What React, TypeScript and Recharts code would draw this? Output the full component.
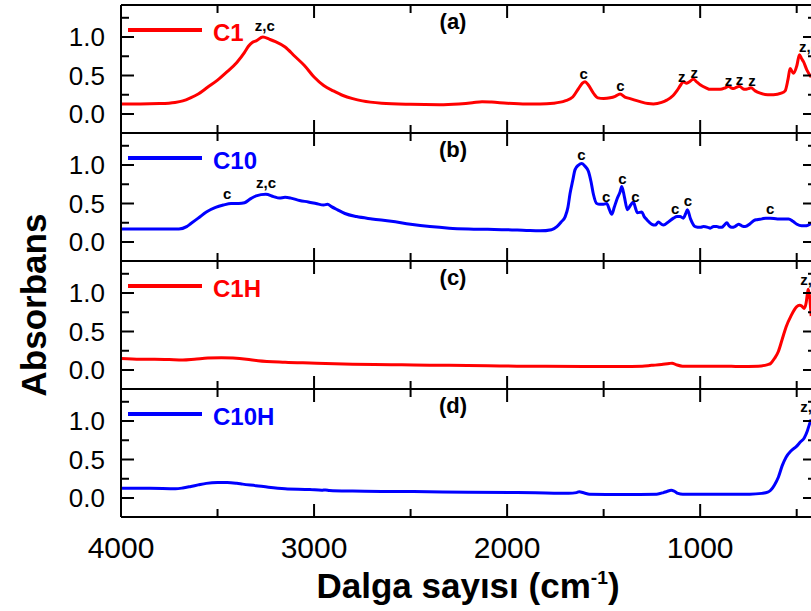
import React from "react";
import { LineChart, Line, XAxis, YAxis, ReferenceDot } from "recharts";

const FONT = "'Liberation Sans', Arial, sans-serif";

// axis ticks (majors every 1000 cm-1 / 0.5 absorbance, minors between)
const xMajor = [4000, 3000, 2000, 1000];
const xMinor = [3500, 2500, 1500, 500];
const yMajor = [0, 0.5, 1];
const yMinor = [0.25, 0.75, 1.25];

// (a) C1
const c1Wn = [4000, 3900, 3800, 3720, 3680, 3640, 3600, 3550, 3500, 3450, 3400, 3360, 3340, 3320, 3300, 3265, 3230, 3200, 3150, 3100, 3050, 3000, 2950, 2900, 2850, 2800, 2750, 2650, 2500, 2350, 2250, 2180, 2130, 2080, 2000, 1900, 1829, 1760, 1700, 1660, 1630, 1610, 1596, 1580, 1553, 1530, 1500, 1466, 1440, 1415, 1390, 1363, 1311, 1270, 1242, 1200, 1173, 1140, 1121, 1100, 1087, 1070, 1061, 1035, 1015, 1000, 970, 948, 896, 870, 853, 840, 827, 810, 796, 780, 767, 750, 737, 715, 689, 650, 620, 580, 560, 545, 534, 517, 499, 486, 475, 465, 447, 425];
const c1Abs = [0.13, 0.13, 0.135, 0.15, 0.17, 0.21, 0.26, 0.35, 0.44, 0.55, 0.67, 0.8, 0.88, 0.93, 0.95, 1.0, 0.97, 0.94, 0.87, 0.75, 0.63, 0.48, 0.37, 0.3, 0.24, 0.2, 0.17, 0.14, 0.125, 0.12, 0.13, 0.145, 0.16, 0.155, 0.14, 0.13, 0.13, 0.14, 0.17, 0.22, 0.33, 0.4, 0.42, 0.38, 0.27, 0.21, 0.2, 0.21, 0.23, 0.26, 0.22, 0.2, 0.16, 0.135, 0.13, 0.15, 0.18, 0.24, 0.3, 0.38, 0.42, 0.4, 0.41, 0.45, 0.41, 0.38, 0.34, 0.32, 0.32, 0.34, 0.36, 0.34, 0.33, 0.35, 0.36, 0.33, 0.32, 0.33, 0.34, 0.3, 0.27, 0.25, 0.25, 0.27, 0.3, 0.45, 0.59, 0.53, 0.63, 0.77, 0.72, 0.68, 0.57, 0.48];

// (b) C10
const c10Wn = [4000, 3800, 3700, 3660, 3638, 3600, 3558, 3510, 3470, 3430, 3390, 3360, 3330, 3300, 3250, 3210, 3180, 3150, 3120, 3075, 3030, 2990, 2950, 2930, 2910, 2880, 2840, 2780, 2700, 2600, 2500, 2400, 2300, 2200, 2100, 2000, 1900, 1829, 1770, 1742, 1720, 1699, 1685, 1674, 1660, 1648, 1630, 1613, 1595, 1579, 1565, 1553, 1536, 1520, 1501, 1484, 1470, 1458, 1445, 1432, 1415, 1406, 1392, 1377, 1360, 1346, 1335, 1325, 1302, 1290, 1276, 1250, 1233, 1216, 1200, 1190, 1160, 1138, 1120, 1104, 1087, 1075, 1066, 1050, 1026, 1000, 983, 960, 948, 930, 914, 900, 888, 875, 862, 850, 836, 820, 801, 785, 767, 740, 720, 706, 680, 660, 637, 600, 570, 542, 520, 499, 475, 456, 440, 425];
const c10Abs = [0.17, 0.17, 0.17, 0.2, 0.24, 0.31, 0.39, 0.45, 0.48, 0.5, 0.5, 0.51, 0.56, 0.6, 0.62, 0.59, 0.57, 0.58, 0.57, 0.54, 0.52, 0.5, 0.48, 0.49, 0.46, 0.42, 0.37, 0.33, 0.3, 0.27, 0.23, 0.2, 0.18, 0.17, 0.165, 0.16, 0.15, 0.145, 0.16, 0.2, 0.26, 0.33, 0.45, 0.63, 0.8, 0.94, 1.0, 1.02, 0.98, 0.92, 0.78, 0.62, 0.5, 0.49, 0.49, 0.5, 0.42, 0.36, 0.45, 0.55, 0.65, 0.72, 0.58, 0.42, 0.48, 0.52, 0.44, 0.38, 0.39, 0.33, 0.29, 0.23, 0.22, 0.26, 0.23, 0.22, 0.27, 0.31, 0.33, 0.33, 0.31, 0.37, 0.42, 0.3, 0.2, 0.19, 0.2, 0.19, 0.18, 0.2, 0.2, 0.19, 0.19, 0.22, 0.25, 0.21, 0.19, 0.2, 0.23, 0.21, 0.2, 0.24, 0.28, 0.29, 0.3, 0.31, 0.31, 0.3, 0.3, 0.3, 0.27, 0.23, 0.21, 0.21, 0.22, 0.24];

// (c) C1H
const c1hWn = [4000, 3900, 3826, 3750, 3680, 3620, 3550, 3480, 3420, 3350, 3290, 3150, 3021, 2800, 2600, 2485, 2300, 2100, 1949, 1800, 1600, 1413, 1300, 1252, 1200, 1160, 1145, 1125, 1091, 1000, 877, 800, 700, 650, 635, 615, 595, 575, 555, 530, 501, 485, 474, 462, 452, 444, 440, 433, 425];
const c1hAbs = [0.15, 0.14, 0.14, 0.135, 0.13, 0.14, 0.155, 0.16, 0.155, 0.14, 0.12, 0.1, 0.09, 0.075, 0.068, 0.065, 0.06, 0.055, 0.05, 0.048, 0.045, 0.045, 0.05, 0.06, 0.07, 0.085, 0.088, 0.07, 0.05, 0.05, 0.05, 0.045, 0.05, 0.07, 0.085, 0.15, 0.24, 0.4, 0.56, 0.7, 0.82, 0.84, 0.83, 0.8, 0.86, 1.0, 1.05, 0.95, 0.7];

// (d) C10H
const c10hWn = [4000, 3850, 3718, 3680, 3638, 3600, 3558, 3500, 3450, 3400, 3370, 3300, 3236, 3150, 3021, 2960, 2940, 2920, 2800, 2600, 2485, 2200, 1949, 1800, 1681, 1640, 1627, 1600, 1574, 1400, 1225, 1190, 1172, 1150, 1135, 1115, 1090, 900, 743, 680, 650, 635, 615, 595, 575, 555, 530, 501, 480, 461, 445, 435, 425];
const c10hAbs = [0.125, 0.125, 0.12, 0.13, 0.15, 0.17, 0.19, 0.2, 0.2, 0.19, 0.18, 0.16, 0.14, 0.12, 0.11, 0.1, 0.105, 0.098, 0.09, 0.085, 0.083, 0.075, 0.07, 0.065, 0.06, 0.07, 0.08, 0.065, 0.05, 0.045, 0.05, 0.07, 0.085, 0.1, 0.09, 0.06, 0.05, 0.05, 0.05, 0.06, 0.075, 0.1, 0.17, 0.27, 0.42, 0.53, 0.61, 0.67, 0.73, 0.78, 0.87, 0.95, 1.02];

// peak annotations (wavenumber, absorbance the letter sits on, text)
const c1Marks = [
  { wn: 3255, abs: 1.04, text: "z,c" },
  { wn: 1603, abs: 0.42, text: "c" },
  { wn: 1413, abs: 0.26, text: "c" },
  { wn: 1095, abs: 0.38, text: "z" },
  { wn: 1031, abs: 0.43, text: "z" },
  { wn: 853, abs: 0.33, text: "z" },
  { wn: 796, abs: 0.34, text: "z" },
  { wn: 732, abs: 0.32, text: "z" },
  { wn: 436, abs: 0.76, text: "z,c" },
];
const c10Marks = [
  { wn: 3450, abs: 0.52, text: "c" },
  { wn: 3249, abs: 0.66, text: "z,c" },
  { wn: 1615, abs: 1.03, text: "c" },
  { wn: 1487, abs: 0.48, text: "c" },
  { wn: 1403, abs: 0.72, text: "c" },
  { wn: 1335, abs: 0.48, text: "c" },
  { wn: 1130, abs: 0.33, text: "c" },
  { wn: 1064, abs: 0.43, text: "c" },
  { wn: 637, abs: 0.33, text: "c" },
];
const c1hMarks = [{ wn: 430, abs: 1.07, text: "z,c" }];
const c10hMarks = [{ wn: 430, abs: 1.08, text: "z,c" }];

const toRows = (wn: number[], abs: number[]) => wn.map((w, i) => ({ wn: w, abs: abs[i] }));

const panels = [
  { tag: "(a)", name: "C1", color: "#ff0000", rows: toRows(c1Wn, c1Abs), marks: c1Marks },
  { tag: "(b)", name: "C10", color: "#0000ff", rows: toRows(c10Wn, c10Abs), marks: c10Marks },
  { tag: "(c)", name: "C1H", color: "#ff0000", rows: toRows(c1hWn, c1hAbs), marks: c1hMarks },
  { tag: "(d)", name: "C10H", color: "#0000ff", rows: toRows(c10hWn, c10hAbs), marks: c10hMarks },
];

const TOP = 5;
const PANEL_H = 128;
const LEFT = 121;
const CHART_W = 816;
const X_DOMAIN: [number, number] = [400, 4000];
const Y_DOMAIN: [number, number] = [-0.247, 1.416];

const frame = { stroke: "#000", strokeWidth: 2 };
const tickStroke = { stroke: "#000", strokeWidth: 2 };

// recharts drops the whole tick list when tick={false}, so draw an empty label instead
const noLabel = () => <g />;

const bottomLabel = (p: any) => (
  <text x={p.x} y={p.y + 41} textAnchor="middle" fontSize={30} fill="#000" fontFamily={FONT}>
    {p.payload.value}
  </text>
);

// inward tick marks drawn by mirrored axes (they take no room)
function xMarks(side: "top" | "bottom", ticks: number[], size: number, id: string, line: boolean) {
  return (
    <XAxis
      xAxisId={id}
      dataKey="wn"
      type="number"
      domain={X_DOMAIN}
      reversed
      allowDataOverflow
      ticks={ticks}
      interval={0}
      orientation={side}
      mirror
      height={1}
      tick={noLabel}
      tickSize={size}
      tickLine={tickStroke}
      axisLine={line ? frame : false}
    />
  );
}

function yMarks(side: "left" | "right", ticks: number[], size: number, id: string, line: boolean) {
  return (
    <YAxis
      yAxisId={id}
      type="number"
      domain={Y_DOMAIN}
      allowDataOverflow
      ticks={ticks}
      interval={0}
      orientation={side}
      mirror
      width={1}
      tick={noLabel}
      tickSize={size}
      tickLine={tickStroke}
      axisLine={line ? frame : false}
    />
  );
}

function Panel({ idx }: { idx: number }) {
  const p = panels[idx];
  const last = idx === panels.length - 1;
  const extra = last ? 80 : 1;
  return (
    <div style={{ position: "absolute", left: 0, top: TOP + idx * PANEL_H - 2 }}>
      <LineChart
        width={CHART_W}
        height={PANEL_H + 2 + extra}
        data={p.rows}
        margin={{ top: 2, right: 0, bottom: 0, left: 0 }}
      >
        <XAxis
          xAxisId="b"
          dataKey="wn"
          type="number"
          domain={X_DOMAIN}
          reversed
          allowDataOverflow
          ticks={xMajor}
          interval={0}
          orientation="bottom"
          height={extra}
          tickSize={0}
          tickMargin={0}
          tickLine={false}
          axisLine={frame}
          tick={last ? bottomLabel : noLabel}
        />
        <YAxis
          yAxisId="l"
          type="number"
          domain={Y_DOMAIN}
          allowDataOverflow
          ticks={yMajor}
          interval={0}
          orientation="left"
          width={LEFT}
          tickSize={0}
          tickMargin={16}
          tickLine={false}
          axisLine={frame}
          tick={{ fontSize: 26, fill: "#000", fontFamily: FONT }}
          tickFormatter={(v: number) => v.toFixed(1)}
        />
        {xMarks("bottom", xMajor, 13, "bM", false)}
        {xMarks("bottom", xMinor, 7, "bm", false)}
        {xMarks("top", xMajor, 13, "tM", true)}
        {xMarks("top", xMinor, 7, "tm", false)}
        {yMarks("left", yMajor, 13, "lM", false)}
        {yMarks("left", yMinor, 7, "lm", false)}
        {yMarks("right", yMajor, 13, "rM", true)}
        {yMarks("right", yMinor, 7, "rm", false)}
        <Line
          xAxisId="b"
          yAxisId="l"
          type="monotone"
          dataKey="abs"
          stroke={p.color}
          strokeWidth={3}
          dot={false}
          isAnimationActive={false}
        />
        {p.marks.map((m) => (
          <ReferenceDot
            key={m.text + m.wn}
            xAxisId="b"
            yAxisId="l"
            x={m.wn}
            y={m.abs}
            r={0}
            fill="none"
            stroke="none"
            label={{ value: m.text, position: "top", offset: 3, fill: "#000", fontSize: 15, fontWeight: 700, fontFamily: FONT }}
          />
        ))}
      </LineChart>
    </div>
  );
}

function LegendTag({ idx }: { idx: number }) {
  const p = panels[idx];
  const y0 = TOP + idx * PANEL_H;
  return (
    <>
      <div style={{ position: "absolute", left: 128, top: y0 + 23, width: 74, height: 4, background: p.color }} />
      <div
        style={{
          position: "absolute",
          left: 213,
          top: y0 + 16,
          fontSize: 24,
          lineHeight: "24px",
          fontWeight: 700,
          color: p.color,
        }}
      >
        {p.name}
      </div>
      <div
        style={{
          position: "absolute",
          left: 453,
          top: y0 + 6,
          transform: "translateX(-50%)",
          fontSize: 22,
          lineHeight: "22px",
          fontWeight: 700,
          color: "#000",
        }}
      >
        {p.tag}
      </div>
    </>
  );
}

export default function App() {
  return (
    <div
      style={{
        position: "fixed",
        left: 0,
        top: 0,
        width: 811,
        height: 611,
        overflow: "hidden",
        background: "#fff",
        fontFamily: FONT,
      }}
    >
      {panels.map((_, i) => (
        <Panel key={i} idx={i} />
      ))}
      {panels.map((_, i) => (
        <LegendTag key={"l" + i} idx={i} />
      ))}
      <div
        style={{
          position: "absolute",
          left: 33,
          top: 305,
          transform: "translate(-50%, -50%) rotate(-90deg)",
          whiteSpace: "nowrap",
          fontSize: 35,
          fontWeight: 700,
          lineHeight: "35px",
        }}
      >
        Absorbans
      </div>
      <div
        style={{
          position: "absolute",
          left: 468,
          top: 588,
          transform: "translate(-50%, -50%)",
          whiteSpace: "nowrap",
          fontSize: 35,
          fontWeight: 700,
          lineHeight: "35px",
        }}
      >
        Dalga sayısı (cm
        <span style={{ fontSize: "0.55em", position: "relative", top: "-0.75em" }}>-1</span>)
      </div>
    </div>
  );
}
